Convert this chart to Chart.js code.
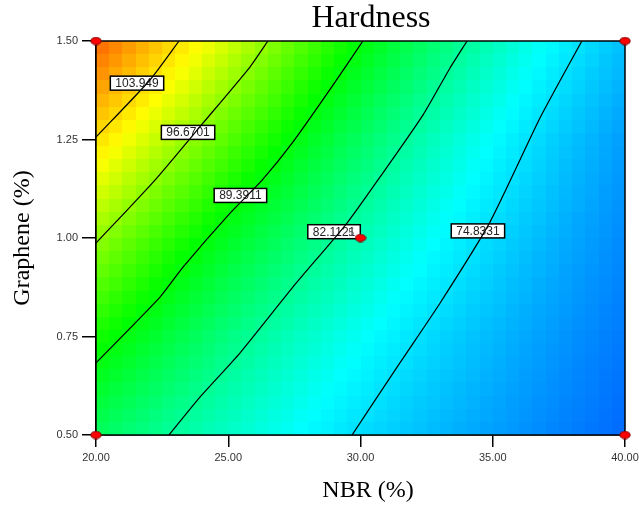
<!DOCTYPE html>
<html>
<head>
<meta charset="utf-8">
<script src="https://cdn.jsdelivr.net/npm/chart.js@4"></script>
<style>
  body { margin: 0; background: #fff; }
  canvas { display: block; }
</style>
</head>
<body>
<canvas id="hardnessChart" width="639" height="505"></canvas>
<script>
// axis ticks
const xTicks = [20, 25, 30, 35, 40];
const yTicks = [0.5, 0.75, 1.0, 1.25, 1.5];

// hardness surface (rows = graphene, cols = NBR)
const gridX = [20, 22.5, 25, 27.5, 30, 32.5, 35, 37.5, 40];
const gridY = [0.5, 0.75, 1.0, 1.25, 1.5];
const hardness = [
    [85.3, 82.4, 79.8, 77.1, 74.5, 72.2, 70.0, 67.9, 66.0],
    [91.0, 87.2, 83.5, 80.3, 77.4, 74.5, 71.9, 69.4, 67.2],
    [97.0, 92.5, 88.3, 84.5, 80.9, 77.5, 74.3, 71.2, 68.4],
    [104.0, 98.8, 94.0, 89.4, 85.0, 80.8, 77.0, 73.2, 69.8],
    [112.0, 105.4, 99.9, 94.6, 89.6, 84.9, 80.5, 76.3, 72.3]
];

// contour lines
const contourLevels = ['103.949', '96.6701', '89.3911', '82.1121', '74.8331'];
const contour1 = [[23.14, 1.5], [22.04, 1.401], [20, 1.256]];
const contour2 = [[26.50, 1.5], [25.82, 1.434], [24.05, 1.292], [22.23, 1.147], [20, 0.987]];
const contour3 = [[30.09, 1.5], [28.96, 1.388], [27.45, 1.244], [26.28, 1.147], [25.07, 1.063],
                  [23.29, 0.926], [22.42, 0.850], [20, 0.683]];
const contour4 = [[34.03, 1.5], [33.38, 1.431], [32.36, 1.312], [30.74, 1.155],
                  [29.49, 1.038], [27.45, 0.876], [25.44, 0.708], [23.93, 0.596], [22.76, 0.5]];
const contour5 = [[38.37, 1.5], [36.79, 1.305], [34.90, 1.041], [33.01, 0.835], [31.49, 0.683], [29.68, 0.5]];
const contours = [contour1, contour2, contour3, contour4, contour5];

// where each contour label sits
const labelSpots = [[21.55, 1.393], [23.48, 1.268], [25.46, 1.108], [29.0, 1.016], [34.44, 1.018]];

// design points
const designPoints = [[20, 0.5], [20, 1.5], [40, 0.5], [40, 1.5], [30, 1.0]];

// colour ramp: value -> rgb
const colorStops = [
    [66, [0, 105, 255]],
    [77, [0, 255, 255]],
    [90, [0, 255, 0]],
    [102, [255, 255, 0]],
    [110, [255, 128, 0]],
    [118, [255, 0, 0]]
];

function rampColor(v) {
    if (v <= colorStops[0][0]) return 'rgb(' + colorStops[0][1].join(',') + ')';
    for (let i = 1; i < colorStops.length; i++) {
        const [v1, c1] = colorStops[i];
        const [v0, c0] = colorStops[i - 1];
        if (v <= v1) {
            const t = (v - v0) / (v1 - v0);
            const c = c0.map((a, k) => Math.round(a + (c1[k] - a) * t));
            return 'rgb(' + c.join(',') + ')';
        }
    }
    return 'rgb(' + colorStops[colorStops.length - 1][1].join(',') + ')';
}

function surfaceAt(x, y) {
    let i = 0, j = 0;
    while (i < gridX.length - 2 && x > gridX[i + 1]) i++;
    while (j < gridY.length - 2 && y > gridY[j + 1]) j++;
    const tx = (x - gridX[i]) / (gridX[i + 1] - gridX[i]);
    const ty = (y - gridY[j]) / (gridY[j + 1] - gridY[j]);
    const a = hardness[j][i], b = hardness[j][i + 1];
    const c = hardness[j + 1][i], d = hardness[j + 1][i + 1];
    return (a * (1 - tx) + b * tx) * (1 - ty) + (c * (1 - tx) + d * tx) * ty;
}

const heatmapPlugin = {
    id: 'heatmap',
    beforeDatasetsDraw(chart) {
        const { ctx, scales: { x, y } } = chart;
        const nx = 40, ny = 30;
        const x0 = gridX[0], x1 = gridX[gridX.length - 1];
        const y0 = gridY[0], y1 = gridY[gridY.length - 1];
        const dx = (x1 - x0) / nx, dy = (y1 - y0) / ny;
        ctx.save();
        for (let i = 0; i < nx; i++) {
            for (let j = 0; j < ny; j++) {
                const xa = x0 + i * dx, ya = y0 + j * dy;
                const v = surfaceAt(xa + dx / 2, ya + dy / 2);
                const pl = Math.round(x.getPixelForValue(xa));
                const pr = Math.round(x.getPixelForValue(xa + dx));
                const pt = Math.round(y.getPixelForValue(ya + dy));
                const pb = Math.round(y.getPixelForValue(ya));
                ctx.fillStyle = rampColor(v);
                ctx.fillRect(pl, pt, pr - pl, pb - pt);
            }
        }
        ctx.restore();
    },
    beforeDatasetDraw(chart, args) {
        // frame and contour labels go under the red design points
        if (args.index !== contours.length) return;
        const { ctx, chartArea: a, scales: { x, y } } = chart;
        ctx.save();
        ctx.strokeStyle = '#000';
        ctx.lineWidth = 1.5;
        ctx.strokeRect(a.left, a.top, a.right - a.left, a.bottom - a.top);

        ctx.font = '12px "Liberation Sans", Arial, sans-serif';
        ctx.textAlign = 'center';
        ctx.textBaseline = 'middle';
        contourLevels.forEach((txt, k) => {
            const px = x.getPixelForValue(labelSpots[k][0]);
            const py = y.getPixelForValue(labelSpots[k][1]);
            const w = ctx.measureText(txt).width + 10;
            const h = 14;
            ctx.fillStyle = '#fff';
            ctx.fillRect(px - w / 2, py - h / 2, w, h);
            ctx.lineWidth = 1.5;
            ctx.strokeStyle = '#000';
            ctx.strokeRect(px - w / 2, py - h / 2, w, h);
            ctx.fillStyle = '#222';
            ctx.fillText(txt, px, py + 0.5);
        });
        // replicate count at the centre point
        ctx.font = '10px "Liberation Sans", Arial, sans-serif';
        ctx.fillStyle = '#555';
        ctx.fillText('5', x.getPixelForValue(29.65), y.getPixelForValue(1.012));
        ctx.restore();
    },
    afterDraw(chart) {
        const { ctx } = chart;
        ctx.save();
        ctx.fillStyle = '#000';
        ctx.textAlign = 'center';
        ctx.textBaseline = 'alphabetic';
        ctx.font = '32px "Liberation Serif", "Times New Roman", serif';
        ctx.fillText('Hardness', 371, 27);
        ctx.font = '24px "Liberation Serif", "Times New Roman", serif';
        ctx.fillText('NBR (%)', 368, 497);
        ctx.translate(29, 238);
        ctx.rotate(-Math.PI / 2);
        ctx.fillText('Graphene (%)', 0, 0);
        ctx.restore();
    }
};

// little red ellipse for the design points
const dot = document.createElement('canvas');
dot.width = 12;
dot.height = 9;
(function () {
    const c = dot.getContext('2d');
    c.beginPath();
    c.ellipse(6, 4.5, 5.2, 3.7, 0, 0, Math.PI * 2);
    c.fillStyle = '#ff0000';
    c.fill();
    c.lineWidth = 1;
    c.strokeStyle = '#7a0000';
    c.stroke();
})();

const tickFont = { family: '"Liberation Sans", Arial, sans-serif', size: 11 };

const datasets = contours.map((pts, k) => ({
    label: contourLevels[k],
    data: pts.map(p => ({ x: p[0], y: p[1] })),
    showLine: true,
    borderColor: '#000',
    borderWidth: 1.2,
    pointRadius: 0,
    tension: 0.2,
    fill: false
}));
datasets.push({
    label: 'Design points',
    data: designPoints.map(p => ({ x: p[0], y: p[1] })),
    pointStyle: dot,
    pointRadius: 6,
    showLine: false,
    clip: false
});

new Chart(document.getElementById('hardnessChart'), {
    type: 'scatter',
    data: { datasets },
    options: {
        responsive: false,
        animation: false,
        layout: { padding: { top: 41, right: 14, left: 0, bottom: 0 } },
        plugins: {
            legend: { display: false },
            title: { display: false },
            tooltip: { enabled: false }
        },
        scales: {
            x: {
                type: 'linear',
                min: 20,
                max: 40,
                afterBuildTicks: s => { s.ticks = xTicks.map(v => ({ value: v })); },
                afterFit: s => { s.height = 70; s.paddingLeft = 0; s.paddingRight = 0; },
                grid: { drawOnChartArea: false, drawTicks: true, tickLength: 12, tickColor: '#000', lineWidth: 1.5 },
                border: { display: true, color: '#000', width: 1.5 },
                ticks: { font: tickFont, color: '#333', padding: 4, maxRotation: 0, callback: v => v.toFixed(2) }
            },
            y: {
                type: 'linear',
                min: 0.5,
                max: 1.5,
                afterBuildTicks: s => { s.ticks = yTicks.map(v => ({ value: v })); },
                afterFit: s => { s.width = 96; s.paddingTop = 0; s.paddingBottom = 0; },
                grid: { drawOnChartArea: false, drawTicks: true, tickLength: 14, tickColor: '#000', lineWidth: 1.5 },
                border: { display: true, color: '#000', width: 1.5 },
                ticks: { font: tickFont, color: '#333', padding: 4, callback: v => v.toFixed(2) }
            }
        }
    },
    plugins: [heatmapPlugin]
});
</script>
</body>
</html>
